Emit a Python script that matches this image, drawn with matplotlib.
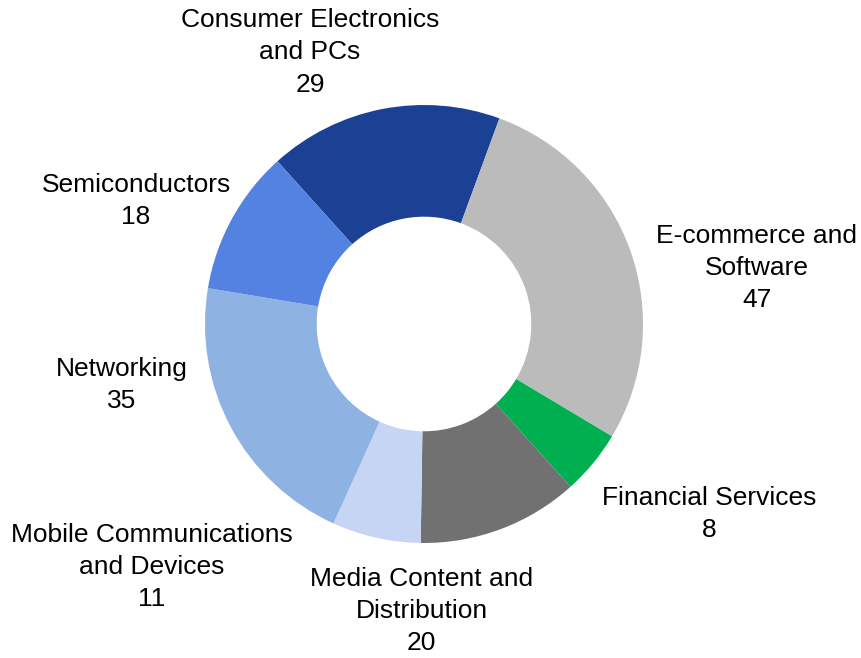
import matplotlib.pyplot as plt

# sector data
sectors = ['Consumer Electronics\nand PCs', 'E-commerce and\nSoftware', 'Financial Services',
           'Media Content and\nDistribution', 'Mobile Communications\nand Devices',
           'Networking', 'Semiconductors']
counts = [29, 47, 8, 20, 11, 35, 18]

# plot setting
colors = ['#1b4195', '#bbbbbb', '#00af50', '#717171', '#c7d5f5', '#8eb2e2', '#5482e0']
label_pos = [(-0.52, 1.24), (1.52, 0.256), (1.30, -0.868), (-0.01, -1.31),
             (-1.242, -1.11), (-1.38, -0.279), (-1.315, 0.562)]
fs = 19

plt.rcParams['font.family'] = ['Liberation Sans', 'DejaVu Sans']

fig = plt.figure(figsize=(8.62, 6.58), dpi=100)
ax = fig.add_axes([0, 0, 1, 1])

# donut: ring width about half the radius
ax.pie(counts, colors=colors, startangle=132, counterclock=False, radius=1.0,
       wedgeprops={'width': 0.51, 'linewidth': 0})

for name, n, (x, y) in zip(sectors, counts, label_pos):
    ax.text(x, y, f'{name}\n{n}', ha='center', va='center', fontsize=fs,
            linespacing=1.43, color='black')

ax.set_xlim(-424 / 219, 438 / 219)
ax.set_ylim(-334 / 219, 324 / 219)
ax.set_aspect('auto')
ax.axis('off')

plt.savefig('out.png', dpi=100)
